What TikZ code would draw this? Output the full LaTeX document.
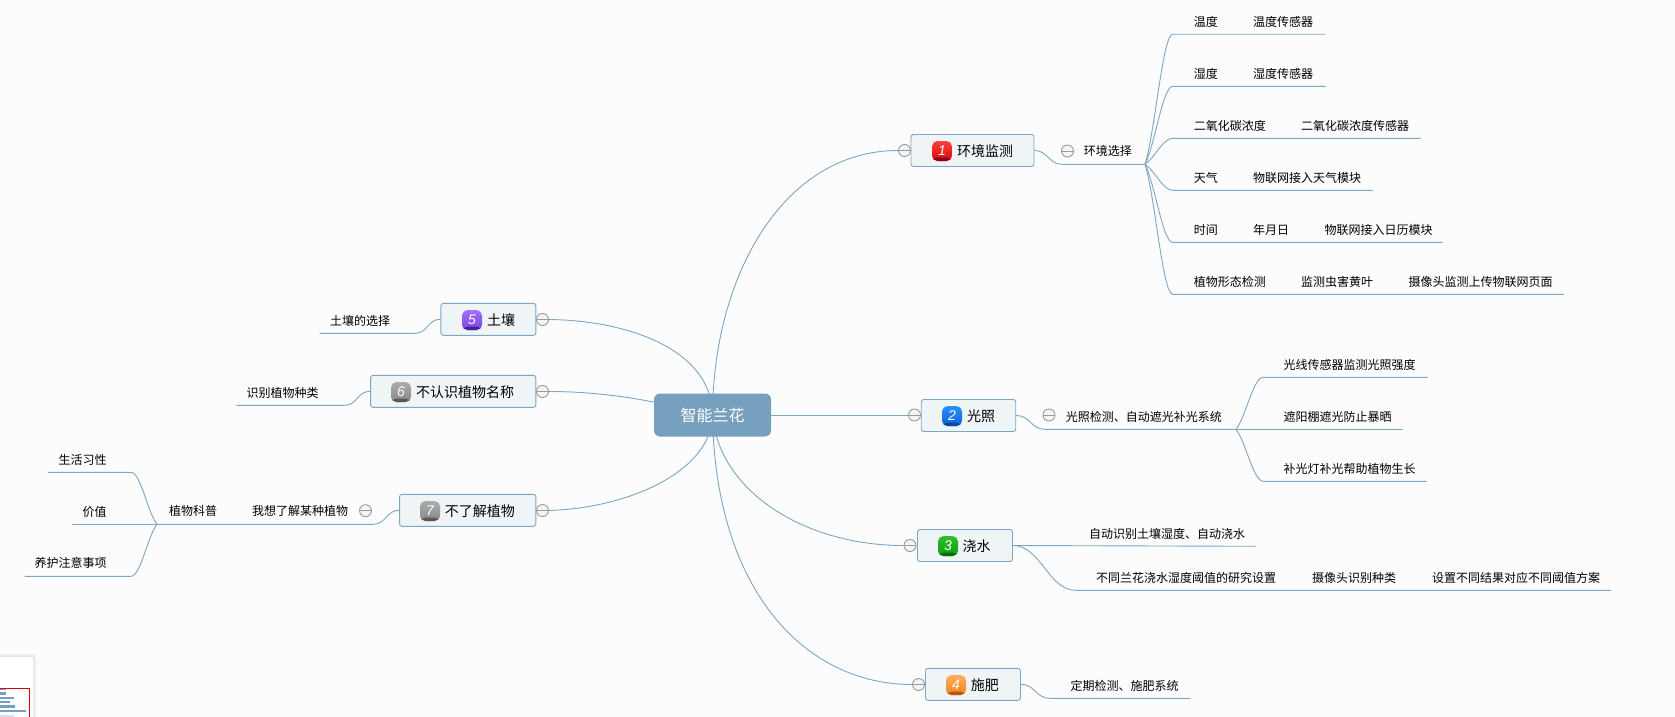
\documentclass[tikz,border=0pt]{standalone}
\usepackage{fontspec}
\setmainfont{Noto Sans CJK SC}
\newfontfamily\iconfont{Liberation Sans}
\usetikzlibrary{backgrounds}
\definecolor{canvas}{HTML}{FCFCFC}
\definecolor{linkblue}{HTML}{7CA6C4}
\definecolor{hubblue}{HTML}{76A0BE}
\definecolor{boxfill}{HTML}{EFF4F7}
\definecolor{ringgrey}{HTML}{9A9A9A}
% badge colours: top, bottom, lower band
\definecolor{redA}{HTML}{FF4038}\definecolor{redB}{HTML}{D80808}\definecolor{redC}{HTML}{8A0020}
\definecolor{bluA}{HTML}{2C90F8}\definecolor{bluB}{HTML}{0A62D8}\definecolor{bluC}{HTML}{0848A0}
\definecolor{grnA}{HTML}{32BE32}\definecolor{grnB}{HTML}{0A9C0A}\definecolor{grnC}{HTML}{086A08}
\definecolor{orgA}{HTML}{FFAE58}\definecolor{orgB}{HTML}{F08422}\definecolor{orgC}{HTML}{B85510}
\definecolor{purA}{HTML}{A272F6}\definecolor{purB}{HTML}{7A42E2}\definecolor{purC}{HTML}{4A20A0}
\definecolor{gryA}{HTML}{ABABAB}\definecolor{gryB}{HTML}{888888}\definecolor{gryC}{HTML}{585858}
\tikzset{
  link/.style={draw=linkblue,line width=0.9pt},
  hub/.style={rectangle,rounded corners=6pt,fill=hubblue,text=white,font=\fontsize{16}{16}\selectfont,minimum width=117pt,minimum height=43pt,inner sep=0pt},
  topic/.style={rectangle,rounded corners=2.5pt,draw=linkblue,fill=boxfill,line width=0.9pt,minimum height=32pt,inner sep=0pt},
  topiclabel/.style={anchor=west,inner sep=0pt,text=black,font=\fontsize{14}{14}\selectfont,text height=13pt,text depth=2.5pt},
  leaflabel/.style={anchor=west,inner sep=0pt,text=black,font=\fontsize{12}{12}\selectfont,text height=11.5pt,text depth=2pt},
  ring/.style={circle,draw=ringgrey,fill=white!96!black,line width=0.9pt,minimum size=12pt,inner sep=0pt,
    path picture={\draw[ringgrey,line width=0.9pt] (path picture bounding box.west) -- (path picture bounding box.east);}},
  badge/.style={rectangle,rounded corners=5.5pt,minimum size=20pt,inner sep=0pt,
    top color=#1A,bottom color=#1B,text=white,font=\iconfont\itshape\fontsize{14}{14}\selectfont,
    path picture={\fill[#1C] ([yshift=3.5pt]path picture bounding box.south west) rectangle (path picture bounding box.south east);}},
}
\begin{document}
\begin{tikzpicture}[x=1pt,y=-1pt]
\useasboundingbox (0,0) rectangle (1675,717);

% central topic
\node[hub] (hub) at (712.5,415) {\raisebox{-1.5pt}{智能兰花}};

% main topics with their badges and labels
\node[topic,minimum width=123pt] (t1) at (972.5,150.5) {};
\node[badge=red] (b1) at (942,151) {1};
\node[topiclabel] (l1) at (957,151) {环境监测};
\node[ring] (r1) at (904.5,150.5) {};

\node[topic,minimum width=94.5pt] (t2) at (968.5,415.5) {};
\node[badge=blu] (b2) at (952,416) {2};
\node[topiclabel] (l2) at (967,416) {光照};
\node[ring] (r2) at (914.5,415) {};

\node[topic,minimum width=95pt] (t3) at (965,545.5) {};
\node[badge=grn] (b3) at (948,546) {3};
\node[topiclabel] (l3) at (962.4,546) {浇水};
\node[ring] (r3) at (910,545.5) {};

\node[topic,minimum width=95pt] (t4) at (973,684.3) {};
\node[badge=org] (b4) at (956,685) {4};
\node[topiclabel] (l4) at (970.6,685) {施肥};
\node[ring] (r4) at (918.5,684.5) {};

\node[topic,minimum width=95pt] (t5) at (488.4,319.3) {};
\node[badge=pur] (b5) at (472,320) {5};
\node[topiclabel] (l5) at (487,320) {土壤};
\node[ring] (r5) at (542.5,319.5) {};

\node[topic,minimum width=165.3pt] (t6) at (453.2,391.3) {};
\node[badge=gry] (b6) at (401,392) {6};
\node[topiclabel] (l6) at (416,392) {不认识植物名称};
\node[ring] (r6) at (542.5,391.5) {};

\node[topic,minimum width=136.3pt] (t7) at (467.7,510.3) {};
\node[badge=gry] (b7) at (430,511) {7};
\node[topiclabel] (l7) at (444.7,511) {不了解植物};
\node[ring] (r7) at (542.5,510.5) {};

% environment monitoring branch
\node[ring] (r1a) at (1067.5,151) {};
\node[leaflabel] (s1) at (1083.6,151) {环境选择};
\coordinate (e1) at (1062,164.3);
\coordinate (j1) at (1145,164.3);
\foreach \nm/\xx/\yy/\tx in {
  a1/1193.7/21.3/温度, a2/1253/21.3/温度传感器,
  b1x/1193.7/73.3/湿度, b2x/1253/73.3/湿度传感器,
  c1/1193.7/125.3/二氧化碳浓度, c2/1301/125.3/二氧化碳浓度传感器,
  d1/1193.7/177.3/天气, d2/1253/177.3/物联网接入天气模块,
  f1/1193.7/229.3/时间, f2/1253/229.3/年月日, f3/1324.3/229.3/物联网接入日历模块,
  g1/1193.7/281.3/植物形态检测, g2/1301/281.3/监测虫害黄叶, g3/1408.3/281.3/摄像头监测上传物联网页面}
  {\node[leaflabel] (\nm) at (\xx,\yy) {\tx};}
\coordinate (ka) at (1172.7,34.3);  \coordinate (kaz) at (1325.7,34.3);
\coordinate (kb) at (1172.7,86.3);  \coordinate (kbz) at (1325.7,86.3);
\coordinate (kc) at (1172.7,138.3); \coordinate (kcz) at (1420.7,138.3);
\coordinate (kd) at (1172.7,190.3); \coordinate (kdz) at (1372.7,190.3);
\coordinate (kf) at (1172.7,242.3); \coordinate (kfz) at (1442.7,242.3);
\coordinate (kg) at (1172.7,294.3); \coordinate (kgz) at (1563.7,294.3);

% light branch
\node[ring] (r2a) at (1049,415) {};
\node[leaflabel] (s2) at (1065.7,416.7) {光照检测、自动遮光补光系统};
\coordinate (e2) at (1045,429.3);
\coordinate (j2) at (1236,429.3);
\node[leaflabel] (m1) at (1283.3,364.3) {光线传感器监测光照强度};
\node[leaflabel] (m2) at (1283.3,416.7) {遮阳棚遮光防止暴晒};
\node[leaflabel] (m3) at (1283.3,468.3) {补光灯补光帮助植物生长};
\coordinate (ma) at (1263.3,377.3); \coordinate (maz) at (1427.7,377.3);
\coordinate (mbz) at (1403.3,429.3);
\coordinate (mc) at (1263.3,481.3); \coordinate (mcz) at (1426.7,481.3);

% watering branch
\node[leaflabel] (w1) at (1089,533.7) {自动识别土壤湿度、自动浇水};
\node[leaflabel] (w2) at (1096,577.7) {不同兰花浇水湿度阈值的研究设置};
\node[leaflabel] (w3) at (1312,577.7) {摄像头识别种类};
\node[leaflabel] (w4) at (1432,577.7) {设置不同结果对应不同阈值方案};
\coordinate (w1z) at (1255.7,546.3);
\coordinate (e3) at (1076,590.3);
\coordinate (e3z) at (1611,590.3);

% fertilising branch
\node[leaflabel] (v1) at (1070.5,686) {定期检测、施肥系统};
\coordinate (e4) at (1049.7,698.3);
\coordinate (e4z) at (1190,698.3);

% soil and species branches
\node[leaflabel] (u5) at (330,320.3) {土壤的选择};
\coordinate (e5) at (415,333.3);
\coordinate (e5z) at (319.6,333.3);
\node[leaflabel] (u6) at (246.5,392.3) {识别植物种类};
\coordinate (e6) at (344.4,405.3);
\coordinate (e6z) at (236.5,405.3);

% plant knowledge branch
\node[ring] (r7a) at (365.5,510.7) {};
\node[leaflabel] (p1) at (252,511) {我想了解某种植物};
\node[leaflabel] (p2) at (168.8,511) {植物科普};
\node[leaflabel] (p3) at (58.5,460) {生活习性};
\node[leaflabel] (p4) at (82.4,511.5) {价值};
\node[leaflabel] (p5) at (34.4,563) {养护注意事项};
\coordinate (e7) at (373,524.3);
\coordinate (j7) at (157,524.3);
\coordinate (pa) at (130.9,472.3); \coordinate (paz) at (47.8,472.3);
\coordinate (pbz) at (72.3,524.3);
\coordinate (pc) at (130.9,576.3); \coordinate (pcz) at (24.5,576.3);

\begin{scope}[on background layer]
  \fill[canvas] (0,0) rectangle (1675,717);
  % connectors from the central topic
  \draw[link] (hub.center) .. controls +(0.5,-139.5) and +(-114.5,0) .. (r1.west);
  \draw[link] (hub.center) -- (r2.west);
  \draw[link] (hub.center) .. controls +(6,75.5) and +(-100,0) .. (r3.west);
  \draw[link] (hub.center) .. controls +(2.5,175.5) and +(-107,0) .. (r4.west);
  \draw[link] (hub.center) .. controls +(-0.5,-64.5) and +(81,1) .. (r5.east);
  \draw[link] (hub.center) .. controls +(-52,-12.5) and +(61,0) .. (r6.east);
  \draw[link] (hub.center) .. controls +(-0.5,55.5) and +(81,-2.5) .. (r7.east);
  % environment monitoring
  \draw[link] (t1.east) .. controls +(13,0) and +(-13,0) .. (e1) -- (j1);
  \draw[link] (j1) .. controls +(10,-32) and +(-10,0) .. (ka) -- (kaz);
  \draw[link] (j1) .. controls +(10,-19.5) and +(-10,0) .. (kb) -- (kbz);
  \draw[link] (j1) .. controls +(10,-6.5) and +(-10,0) .. (kc) -- (kcz);
  \draw[link] (j1) .. controls +(10,6.5) and +(-10,0) .. (kd) -- (kdz);
  \draw[link] (j1) .. controls +(10,19.5) and +(-10,0) .. (kf) -- (kfz);
  \draw[link] (j1) .. controls +(10,32) and +(-10,0) .. (kg) -- (kgz);
  % light
  \draw[link] (t2.east) .. controls +(14,0) and +(-14,0) .. (e2) -- (j2);
  \draw[link] (j2) .. controls +(10,-13) and +(-10,0) .. (ma) -- (maz);
  \draw[link] (j2) -- (mbz);
  \draw[link] (j2) .. controls +(10,13) and +(-10,0) .. (mc) -- (mcz);
  % watering
  \draw[link] (t3.east) -- (w1z);
  \draw[link] (t3.east) .. controls +(28,0) and +(-28,0) .. (e3) -- (e3z);
  % fertilising
  \draw[link] (t4.east) .. controls +(14,0) and +(-14,0) .. (e4) -- (e4z);
  % soil and species
  \draw[link] (t5.west) .. controls +(-13,0) and +(13,0) .. (e5) -- (e5z);
  \draw[link] (t6.west) .. controls +(-13,0) and +(13,0) .. (e6) -- (e6z);
  % plant knowledge
  \draw[link] (t7.west) .. controls +(-13,0) and +(13,0) .. (e7) -- (j7);
  \draw[link] (j7) .. controls +(-10,-13) and +(10,0) .. (pa) -- (paz);
  \draw[link] (j7) -- (pbz);
  \draw[link] (j7) .. controls +(-10,13) and +(10,0) .. (pc) -- (pcz);
\end{scope}

% overview panel in the lower left corner
\foreach \grow/\op in {4/0.015,3/0.02,2/0.025,1/0.03}
  \fill[black,opacity=\op,rounded corners=2pt] (-5,657-\grow) rectangle (33+\grow,720);
\fill[white,rounded corners=2pt] (-5,657) rectangle (33,720);
\foreach \yy/\wd in {689/5.7,693.3/5.7,697.7/13.7,702/9.7,706.3/15.3,710.7/25.7}
  \fill[hubblue] (0,\yy-1.2) rectangle (\wd,\yy+1.2);
\fill[hubblue!30] (0,715) rectangle (14,717);
\draw[red!90!black,line width=1pt] (-2,688) -- (29,688) -- (29,719);
\end{tikzpicture}
\end{document}
